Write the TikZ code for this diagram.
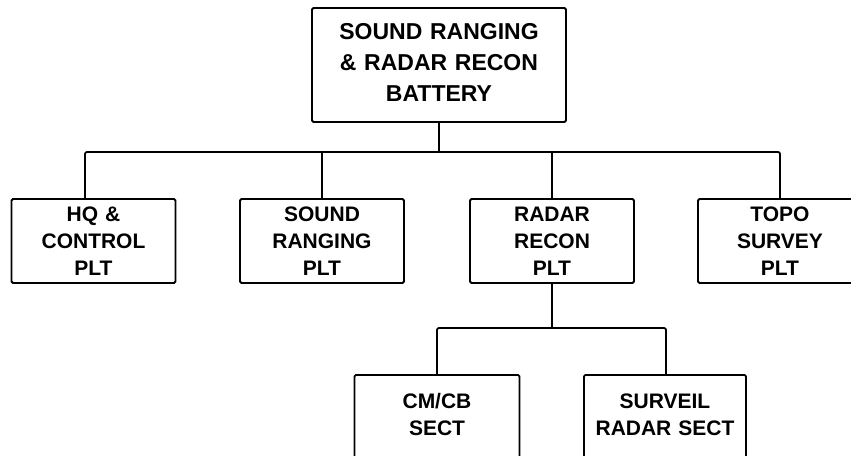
\documentclass[tikz,border=0pt]{standalone}
\usepackage{fontspec}
\setmainfont{Liberation Sans}
\begin{document}
\begin{tikzpicture}[x=1pt,y=-1pt,
  box/.style={draw=black,line width=1.8pt,rounded corners=1.5pt,align=center,inner sep=0pt,
    font=\bfseries\fontsize{21}{27}\selectfont,text width=160pt,minimum width=164pt,minimum height=84pt},
  topbox/.style={box,minimum width=254pt,minimum height=114pt},
  toptext/.style={align=center,inner sep=0pt,font=\bfseries\fontsize{23}{31}\selectfont,text width=250pt},
  lowbox/.style={box,minimum height=96pt,anchor=north,text depth=44pt},
  link/.style={line width=1.8pt}]
\useasboundingbox (0,0) rectangle (851,455);
\clip (0,0) rectangle (851,455);
\node[topbox] (top) at (439,65) {};
\node[toptext] (toplabel) at ([yshift=3pt]top.center) {SOUND RANGING\\\& RADAR RECON\\BATTERY};
\node[box] (hq) at (93.5,241) {HQ \&\\CONTROL\\PLT};
\node[box] (snd) at (322,241) {SOUND\\RANGING\\PLT};
\node[box] (rdr) at (552,241) {RADAR\\RECON\\PLT};
\node[box] (topo) at (780,241) {TOPO\\SURVEY\\PLT};
\node[lowbox,minimum width=165pt,text width=160pt] (cm) at (437,374) {CM/CB\\SECT};
\node[lowbox,minimum width=162pt,text width=160pt] (sv) at (665,374) {SURVEIL\\RADAR SECT};
\coordinate (busL) at (85,152);
\coordinate (busR) at (780,152);
\coordinate (busT) at (439,152);
\coordinate (bus2L) at (437,328);
\coordinate (bus2R) at (666,328);
\coordinate (bus2M) at (552,328);
\draw[link] (top.south) -- (busT);
\draw[link,rounded corners=2pt] (hq.north -| busL) -- (busL) -- (busR) -- (topo.north);
\draw[link] (snd.north |- busL) -- (snd.north);
\draw[link] (rdr.north |- busL) -- (rdr.north);
\draw[link] (rdr.south) -- (bus2M);
\draw[link,rounded corners=2pt] (cm.north) -- (bus2L) -- (bus2R) -- (bus2R |- sv.north);
\end{tikzpicture}
\end{document}
